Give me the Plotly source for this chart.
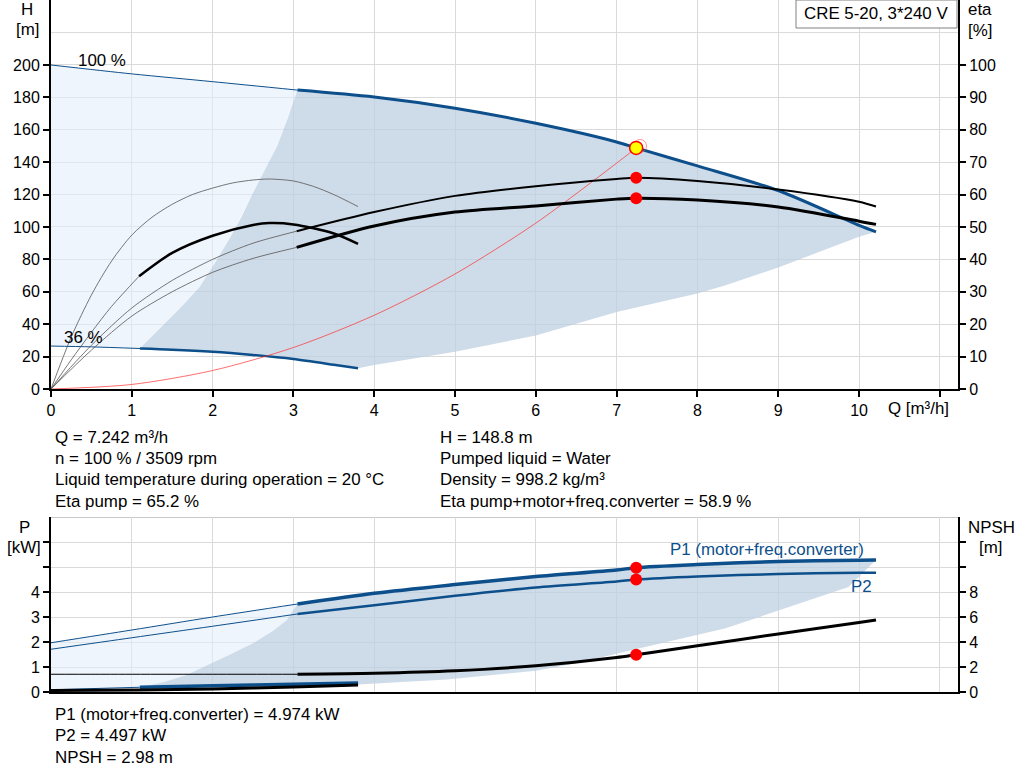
import plotly.graph_objects as go

# ---- pump curve data ----
# head curves, H [m]
q_h100_thin = [0, 1, 2, 3.05]
h_h100_thin = [200, 194.5, 189.7, 184.5]
q_h100 = [3.05, 4, 5, 6, 7, 7.242, 8, 9, 10, 10.21]
h_h100 = [184.5, 180.2, 173.3, 164, 152.5, 148.8, 137.7, 122.5, 101, 97]

q_h36_thin = [0, 0.5, 1.1]
h_h36_thin = [26.5, 26, 25]
q_h36 = [1.1, 1.5, 2, 2.5, 3, 3.5, 3.8]
h_h36 = [25, 24.3, 23, 21, 18.5, 15, 12.8]

# operating area borders (H)
q_area_left = [1.1, 1.25, 1.43, 1.63, 1.84, 2.02, 2.2, 2.36, 2.5, 2.65, 2.8, 2.93, 3.05]
h_area_left = [25, 32.5, 41.5, 51.5, 63, 77, 92, 106.5, 121, 135.5, 150, 167, 184.5]
q_area_low = [3.8, 4, 5, 5.56, 6, 7, 8, 8.35, 9, 10, 10.21]
h_area_low = [12.8, 14.8, 23, 28.4, 33, 47.5, 59, 64, 75, 94, 97]

# system curve
q_sys = [0, 1, 2, 3, 4, 5, 6, 7, 7.242, 7.3]
h_sys = [0, 2.8, 11.4, 25.6, 45.5, 71, 102.4, 139.4, 148.8, 151]

# efficiency curves, eta [%]
q_eta_p_thin = [0, 0.5, 1, 1.5, 2, 2.5, 3.04]
eta_p_thin = [0, 13.5, 25, 33.5, 40, 45, 48.7]
q_eta_p = [3.04, 4, 5, 6, 7, 7.242, 8, 9, 10, 10.21]
eta_p = [48.7, 54.6, 59.6, 62.6, 64.8, 65.2, 64.2, 61.6, 57.8, 56.3]

q_eta_t_thin = [0, 0.5, 1, 1.5, 2, 2.5, 3.04]
eta_t_thin = [0, 12, 22.5, 30, 36, 40.3, 43.7]
q_eta_t = [3.04, 4, 5, 6, 7, 7.242, 8, 9, 10, 10.21]
eta_t = [43.7, 50.3, 54.6, 56.5, 58.6, 58.9, 58.3, 56.2, 51.8, 50.8]

q_eta_p36 = [0, 0.25, 0.5, 0.75, 1, 1.25, 1.5, 1.75, 2, 2.25, 2.5, 2.7, 3, 3.25, 3.5, 3.8]
eta_p36 = [0, 16, 29, 39.5, 47.5, 53, 57, 60, 62, 63.6, 64.5, 64.8, 64.2, 62.5, 60, 56.3]

q_eta_t36_thin = [0, 0.25, 0.5, 0.75, 1.09]
eta_t36_thin = [0, 9, 17.5, 25.5, 34.8]
q_eta_t36 = [1.09, 1.5, 2, 2.5, 2.7, 3, 3.5, 3.8]
eta_t36 = [34.8, 42, 47.3, 50.6, 51.2, 50.8, 48, 44.8]

# power curves, P [kW]
q_p1_thin = [0, 1, 2, 3.05]
p1_thin = [1.97, 2.48, 3.0, 3.52]
q_p1 = [3.05, 4, 5, 6, 7, 7.242, 8, 9, 10, 10.21]
p1 = [3.52, 3.95, 4.3, 4.62, 4.88, 4.974, 5.1, 5.22, 5.27, 5.28]

q_p2_thin = [0, 1, 2, 3.05]
p2_thin = [1.71, 2.17, 2.63, 3.12]
q_p2 = [3.05, 4, 5, 6, 7, 7.242, 8, 9, 10, 10.21]
p2 = [3.12, 3.47, 3.85, 4.18, 4.42, 4.497, 4.62, 4.72, 4.77, 4.77]

q_p36_thin = [0, 1.1]
p36_thin = [0.09, 0.19]
q_p36 = [1.1, 2, 3, 3.8]
p36 = [0.19, 0.25, 0.31, 0.36]

q_parea_left = [1.1, 1.4, 1.68, 2.0, 2.25, 2.5, 2.75, 2.92, 3.05]
p_parea_left = [0.19, 0.4, 0.68, 1.15, 1.55, 1.95, 2.45, 2.88, 3.52]
q_parea_low = [3.8, 4.9, 6.0, 6.5, 6.96, 7.3, 8.35, 9.0, 9.5, 9.87, 10.21]
p_parea_low = [0.3, 0.5, 0.85, 1.15, 1.5, 1.76, 2.55, 3.28, 3.8, 4.2, 5.28]

# NPSH [m]
q_npsh_thin = [0, 1, 2, 3.05]
npsh_thin = [1.42, 1.42, 1.42, 1.42]
q_npsh = [3.05, 4, 5, 6, 7, 7.242, 8, 9, 10, 10.21]
npsh = [1.42, 1.5, 1.7, 2.1, 2.76, 2.98, 3.7, 4.64, 5.56, 5.76]
q_npsh36 = [0, 1.1, 2, 3, 3.8]
npsh36 = [0.12, 0.16, 0.25, 0.4, 0.56]

# duty point
q_duty = 7.242
h_duty = 148.8
eta_pump_duty = 65.2
eta_tot_duty = 58.9
p1_duty = 4.974
p2_duty = 4.497
npsh_duty = 2.98

x_ticks = list(range(0, 12))
x_labels = [str(v) for v in range(0, 11)] + [""]
h_ticks = list(range(0, 201, 20))
eta_ticks = list(range(0, 101, 10))
p_ticks = [0, 1, 2, 3, 4, 5, 6]
p_labels = ["0", "1", "2", "3", "4", "", ""]
npsh_ticks = [0, 2, 4, 6, 8, 10, 12]
npsh_labels = ["0", "2", "4", "6", "8", "", ""]

info_left = ["Q = 7.242 m³/h", "n = 100 % / 3509 rpm",
             "Liquid temperature during operation = 20 °C", "Eta pump = 65.2 %"]
info_right = ["H = 148.8 m", "Pumped liquid = Water", "Density = 998.2 kg/m³",
              "Eta pump+motor+freq.converter = 58.9 %"]
info_bottom = ["P1 (motor+freq.converter) = 4.974 kW", "P2 = 4.497 kW", "NPSH = 2.98 m"]

BLUE = "#0d4f8b"
LIGHT = "rgba(226,239,252,0.6)"
DARK = "rgba(190,207,224,0.75)"
THIN = "#555555"
W, H = 1024, 781


def px(x):
    return x / W


def py(y):
    return 1 - y / H


def line(q, v, color, width, xa="x", ya="y"):
    return go.Scatter(x=q, y=v, mode="lines", xaxis=xa, yaxis=ya,
                      line=dict(color=color, width=width, shape="spline", smoothing=0.8),
                      hoverinfo="skip")


def area(q, v, color, xa="x", ya="y"):
    return go.Scatter(x=q, y=v, mode="lines", fill="toself", fillcolor=color,
                      line=dict(width=0), xaxis=xa, yaxis=ya, hoverinfo="skip")


fig = go.Figure()

# ---- top panel: Q-H / eta ----
fig.add_trace(area(q_h100_thin + q_area_left[::-1] + q_h36_thin[::-1],
                   h_h100_thin + h_area_left[::-1] + h_h36_thin[::-1], LIGHT))
fig.add_trace(area(q_area_left + q_h100 + q_area_low[::-1] + q_h36[::-1],
                   h_area_left + h_h100 + h_area_low[::-1] + h_h36[::-1], DARK))
fig.add_trace(line(q_h100_thin, h_h100_thin, BLUE, 1))
fig.add_trace(line(q_h100, h_h100, BLUE, 3))
fig.add_trace(line(q_h36_thin, h_h36_thin, BLUE, 1))
fig.add_trace(line(q_h36, h_h36, BLUE, 2.5))
fig.add_trace(line(q_sys, h_sys, "rgba(255,40,40,0.85)", 0.8))
fig.add_trace(go.Scatter(x=[7.29], y=[150], mode="markers", hoverinfo="skip",
                         marker=dict(size=13, color="rgba(0,0,0,0)",
                                     line=dict(color="rgba(255,80,80,0.6)", width=1))))
fig.add_trace(go.Scatter(x=[q_duty], y=[h_duty], mode="markers", hoverinfo="skip",
                         marker=dict(size=13, color="#ffff00", line=dict(color="#ff0000", width=1.5))))

fig.add_trace(line(q_eta_p36, eta_p36, THIN, 0.8, ya="y2"))
fig.add_trace(line(q_eta_t36_thin, eta_t36_thin, THIN, 0.8, ya="y2"))
fig.add_trace(line(q_eta_t36, eta_t36, "black", 2.5, ya="y2"))
fig.add_trace(line(q_eta_p_thin, eta_p_thin, THIN, 0.8, ya="y2"))
fig.add_trace(line(q_eta_p, eta_p, "black", 2, ya="y2"))
fig.add_trace(line(q_eta_t_thin, eta_t_thin, THIN, 0.8, ya="y2"))
fig.add_trace(line(q_eta_t, eta_t, "black", 3, ya="y2"))
fig.add_trace(go.Scatter(x=[q_duty, q_duty], y=[eta_pump_duty, eta_tot_duty], mode="markers",
                         yaxis="y2", hoverinfo="skip", marker=dict(size=12, color="#ff0000")))

# ---- bottom panel: P / NPSH ----
fig.add_trace(area(q_p1_thin + q_parea_left[::-1] + q_p36_thin[::-1],
                   p1_thin + p_parea_left[::-1] + p36_thin[::-1], LIGHT, "x2", "y3"))
fig.add_trace(area(q_parea_left + q_p1 + q_parea_low[::-1] + q_p36[::-1],
                   p_parea_left + p1 + p_parea_low[::-1] + p36[::-1], DARK, "x2", "y3"))
fig.add_trace(line(q_p1_thin, p1_thin, BLUE, 1, "x2", "y3"))
fig.add_trace(line(q_p1, p1, BLUE, 3.5, "x2", "y3"))
fig.add_trace(line(q_p2_thin, p2_thin, BLUE, 1, "x2", "y3"))
fig.add_trace(line(q_p2, p2, BLUE, 2.5, "x2", "y3"))
fig.add_trace(line(q_p36_thin, p36_thin, BLUE, 1, "x2", "y3"))
fig.add_trace(line(q_p36, p36, BLUE, 3.5, "x2", "y3"))
fig.add_trace(go.Scatter(x=[q_duty, q_duty], y=[p1_duty, p2_duty], mode="markers",
                         xaxis="x2", yaxis="y3", hoverinfo="skip",
                         marker=dict(size=12, color="#ff0000")))

fig.add_trace(line(q_npsh36, npsh36, "black", 3, "x2", "y4"))
fig.add_trace(line(q_npsh_thin, npsh_thin, "black", 1, "x2", "y4"))
fig.add_trace(line(q_npsh, npsh, "black", 3, "x2", "y4"))
fig.add_trace(go.Scatter(x=[q_duty], y=[npsh_duty], mode="markers", xaxis="x2", yaxis="y4",
                         hoverinfo="skip", marker=dict(size=12, color="#ff0000")))

FONT = dict(family="Liberation Sans, Arial, sans-serif", size=16, color="black")
TFONT = dict(FONT, size=16.9)
GRID = "#dadada"
xdom = [px(51), px(958)]
axis_common = dict(showline=True, linecolor="black", linewidth=2, ticks="outside",
                   ticklen=6, tickwidth=1.5, tickcolor="black", zeroline=False,
                   gridcolor=GRID, gridwidth=1, tickfont=FONT, automargin=False)

fig.update_layout(
    width=W, height=H, autosize=False,
    margin=dict(l=0, r=0, t=0, b=0, pad=0, autoexpand=False),
    paper_bgcolor="white", plot_bgcolor="rgba(0,0,0,0)",
    showlegend=False, font=FONT,
    xaxis=dict(axis_common, domain=xdom, range=[0, 11.225], anchor="y",
               tickmode="array", tickvals=x_ticks, ticktext=x_labels, showgrid=True),
    yaxis=dict(axis_common, domain=[py(389), 1], range=[0, 240.1], anchor="x",
               tickmode="array", tickvals=h_ticks, showgrid=True),
    yaxis2=dict(axis_common, range=[0, 120.05], overlaying="y", side="right", anchor="x",
                tickmode="array", tickvals=eta_ticks, showgrid=False),
    xaxis2=dict(axis_common, domain=xdom, range=[0, 11.225], anchor="y3",
                tickmode="array", tickvals=x_ticks, showticklabels=False, ticks="",
                showgrid=True),
    yaxis3=dict(axis_common, domain=[py(692), py(517)], range=[0, 7], anchor="x2",
                tickmode="array", tickvals=p_ticks, ticktext=p_labels, showgrid=True),
    yaxis4=dict(axis_common, range=[0, 14], overlaying="y3", side="right", anchor="x2",
                tickmode="array", tickvals=npsh_ticks, ticktext=npsh_labels, showgrid=False),
)

# extra grid lines without ticks
fig.add_shape(type="line", xref="x", yref="y", x0=0, x1=11.225, y0=220, y1=220,
              line=dict(color=GRID, width=1), layer="below")
fig.add_shape(type="line", xref="x2", yref="y3", x0=0, x1=11.225, y0=7, y1=7,
              line=dict(color="#c8c8c8", width=2), layer="below")

# type label box
fig.add_shape(type="rect", xref="paper", yref="paper", x0=px(796), x1=px(957), y0=py(28), y1=1,
              line=dict(color="#808080", width=1), fillcolor="white", layer="above")


def label(x, y, text, xanchor="center", color="black", font=TFONT):
    fig.add_annotation(x=px(x), y=py(y), xref="paper", yref="paper", text=text,
                       showarrow=False, xanchor=xanchor, yanchor="middle",
                       font=dict(font, color=color))


label(876, 14, "CRE 5-20, 3*240 V")
label(27, 10, "H")
label(27, 30, "[m]")
label(980, 10, "eta")
label(980, 31, "[%]")
label(918, 408, "Q [m³/h]")
label(102, 61, "100 %")
label(83, 337, "36 %")
label(24, 527, "P")
label(24, 547, "[kW]")
label(991, 527, "NPSH")
label(990, 547, "[m]")
label(767, 549, "P1 (motor+freq.converter)", color=BLUE)
label(861, 586, "P2", color=BLUE)

for i, t in enumerate(info_left):
    label(53, 437 + i * 21.5, t, xanchor="left")
for i, t in enumerate(info_right):
    label(438, 437 + i * 21.5, t, xanchor="left")
for i, t in enumerate(info_bottom):
    label(53, 714 + i * 21.5, t, xanchor="left")

fig.write_html("out.html", config={"displayModeBar": False},
               post_script="document.body.style.margin='0';document.body.style.overflow='hidden';")
